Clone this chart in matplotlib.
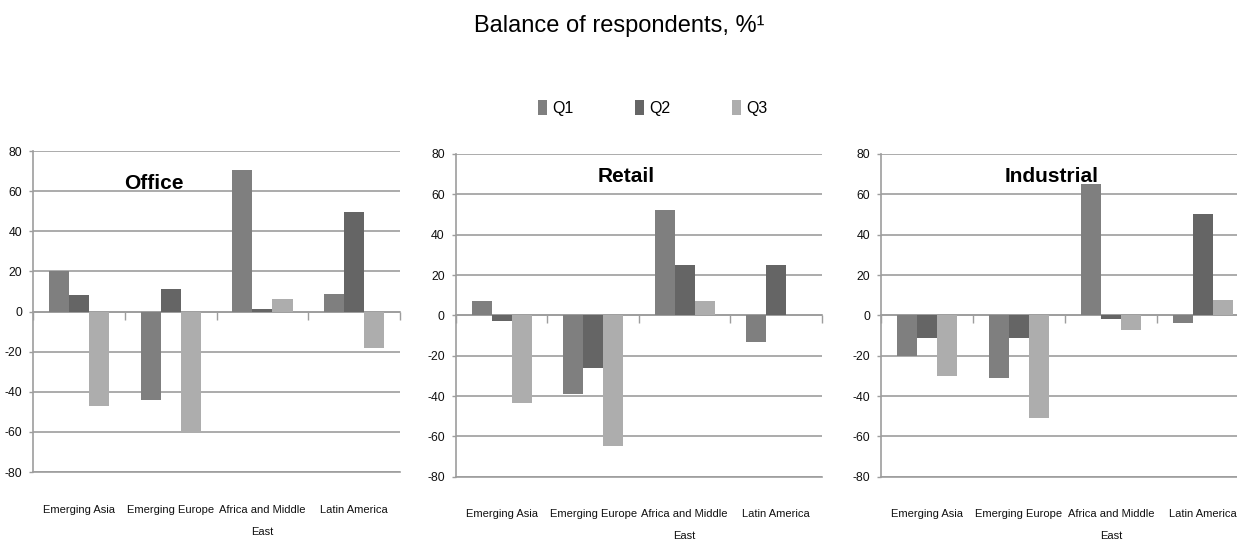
import matplotlib
matplotlib.use("Agg")
import matplotlib.pyplot as plt
from matplotlib.patches import Patch
import numpy as np

# ---- data -------------------------------------------------------------
regions = ["Emerging Asia", "Emerging Europe", "Africa and Middle\nEast", "Latin America"]
series_names = ["Q1", "Q2", "Q3"]

office_q1 = [20, -44, 70.5, 8.5]
office_q2 = [8, 11, 1.5, 49.5]
office_q3 = [-47, -60, 6, -18]

retail_q1 = [7, -39, 52, -13]
retail_q2 = [-3, -26, 25, 25]
retail_q3 = [-43.5, -65, 7, 0]

industrial_q1 = [-20, -31, 65, -4]
industrial_q2 = [-11, -11, -2, 50]
industrial_q3 = [-30, -51, -7.5, 7.5]

panel_titles = ["Office", "Retail", "Industrial"]
y_ticks = [-80, -60, -40, -20, 0, 20, 40, 60, 80]
chart_title = "Balance of respondents, %\u00b9"

# ---- styling ----------------------------------------------------------
colors = ["#7f7f7f", "#656565", "#adadad"]
grid_color = "#9d9d9d"
text_color = "#111111"

plt.rcParams["axes.unicode_minus"] = False
plt.rcParams["font.family"] = ["Liberation Sans", "DejaVu Sans"]

fig = plt.figure(figsize=(12.37, 5.39), dpi=100)

axes_rects = [
    [0.0267, 0.1243, 0.2967, 0.5955],
    [0.3686, 0.1156, 0.2959, 0.5987],
    [0.7122, 0.1156, 0.2975, 0.5987],
]
title_pos = [(0.33, 0.8816), (0.466, 0.913), (0.464, 0.913)]

panels = [
    (office_q1, office_q2, office_q3),
    (retail_q1, retail_q2, retail_q3),
    (industrial_q1, industrial_q2, industrial_q3),
]

bar_w = 0.2186
x = np.arange(len(regions))
boundaries = np.arange(len(regions) + 1) - 0.5

for rect, series, ptitle, tpos in zip(axes_rects, panels, panel_titles, title_pos):
    ax = fig.add_axes(rect)
    ax.set_axisbelow(True)
    for i, (vals, c) in enumerate(zip(series, colors)):
        ax.bar(x + (i - 1) * bar_w, vals, width=bar_w, color=c, linewidth=0, zorder=3)

    ax.set_xlim(-0.5, len(regions) - 0.5)
    ax.set_ylim(-80, 80)
    ax.set_yticks(y_ticks)
    ax.set_yticklabels([str(v) for v in y_ticks])
    ax.yaxis.grid(True, color=grid_color, linewidth=1.2)
    ax.tick_params(axis="y", length=3, width=1, color=grid_color, pad=5,
                   labelsize=8.8, labelcolor=text_color)

    ax.set_xticks(x)
    ax.set_xticklabels(regions)
    ax.tick_params(axis="x", length=0, pad=23.5, labelsize=8, labelcolor=text_color)
    for lab in ax.get_xticklabels():
        lab.set_linespacing(2.5)

    for side in ("top", "right"):
        ax.spines[side].set_visible(False)
    for side in ("left", "bottom"):
        ax.spines[side].set_color(grid_color)
        ax.spines[side].set_linewidth(1.2)

    # category axis running through zero, with separators between groups
    zero_axis = ax.secondary_xaxis(0, transform=ax.transData)
    zero_axis.set_xticks(boundaries)
    zero_axis.tick_params(axis="x", direction="out", length=6, width=1,
                          color=grid_color, labelbottom=False, labeltop=False)
    zero_axis.spines["bottom"].set_color(grid_color)
    zero_axis.spines["bottom"].set_linewidth(1.2)

    ax.text(tpos[0], tpos[1], ptitle, transform=ax.transAxes, ha="center",
            va="baseline", fontsize=15, fontweight="bold", color="black")

handles = [Patch(facecolor=c, edgecolor="none") for c in colors]
fig.legend(handles, series_names, loc="center", bbox_to_anchor=(0.5276, 0.7996),
           ncol=3, frameon=False, fontsize=11.5, handlelength=0.55,
           handleheight=1.0, handletextpad=0.35, columnspacing=3.85)

fig.text(0.5004, 1 - 32 / 539, chart_title, ha="center", va="baseline",
         fontsize=17, color="black")

fig.savefig("out.png", dpi=100)
